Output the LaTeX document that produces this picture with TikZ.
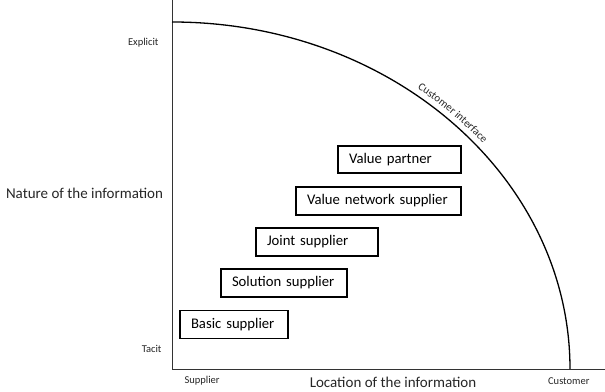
\documentclass[tikz,border=0pt]{standalone}
\usepackage{fontspec}
\setmainfont{Carlito}
\usetikzlibrary{decorations.text}
\begin{document}
\begin{tikzpicture}[x=1pt,y=1pt,
  sbox/.style={draw=black, line width=1.1pt, rectangle, inner ysep=0pt, inner xsep=11pt, align=left, font=\fontsize{14.7}{16}\selectfont},
  axislabel/.style={font=\fontsize{15}{17}\selectfont, text=black!85},
  small/.style={font=\fontsize{10.5}{12}\selectfont, text=black!85}]
\useasboundingbox (0,0) rectangle (605,391);
% axes
\coordinate (O) at (172,22);
\coordinate (Ytop) at (172,391);
\coordinate (Xend) at (605,22);
\draw[line width=0.9pt, black!80] (Ytop) -- (O) -- (Xend);
% arc
\coordinate (A0) at (172,369);
\draw[line width=1.3pt] (A0) arc[start angle=90, end angle=0, x radius=398, y radius=347];
% customer interface label
\coordinate (ciA) at ({172+404*cos(58)},{22+353*sin(58)});
\path[decorate, decoration={text along path, text align=center,
  text={|\fontsize{11}{12}\selectfont\color{black!85}|Customer interface}}]
  (ciA) arc[start angle=58, end angle=34, x radius=404, y radius=353];
% boxes
\node[sbox, text width=101, minimum height=27] (vp) at (399.5,231.5) {Value partner};
\node[sbox, text width=143, minimum height=28] (vn) at (378.5,190) {Value network supplier};
\node[sbox, text width=100, minimum height=28] (js) at (317,149) {Joint supplier};
\node[sbox, text width=104, minimum height=28] (ss) at (284,108) {Solution supplier};
\node[sbox, text width=86, minimum height=28] (bs) at (234,66.5) {Basic supplier};
% labels
\node[small, anchor=east] (ex) at (162,348) {Explicit};
\node[small, anchor=east] (ta) at (165,42) {Tacit};
\node[small, anchor=west] (su) at (181,10) {Supplier};
\node[small, anchor=east] (cu) at (593,10) {Customer};
\node[axislabel] (loc) at (393,8.5) {Location of the information};
\node[axislabel] (nat) at (84.5,198) {Nature of the information};
\end{tikzpicture}
\end{document}
